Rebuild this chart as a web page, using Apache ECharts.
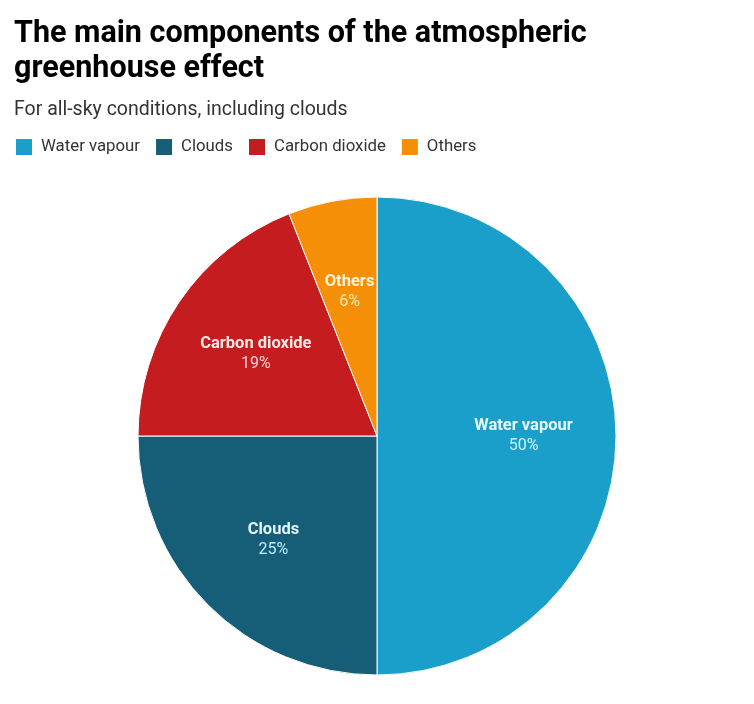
<!DOCTYPE html>
<html>
<head>
<meta charset="utf-8">
<script src="https://cdn.jsdelivr.net/npm/echarts@6/dist/echarts.min.js"></script>
<style>html,body{margin:0;padding:0;background:#fff;}#c{width:754px;height:704px;}</style>
</head>
<body>
<div id="c"></div>
<script>
const categories = ['Water vapour', 'Clouds', 'Carbon dioxide', 'Others'];
const values = [50, 25, 19, 6];
const colors = ['#1a9fca', '#165e78', '#c41c1f', '#f68f08'];
const nameColors = ['#e6fbff', '#e3f7ff', '#ffe9e6', '#fff4d6'];
const pctColors = ['#c9f2ff', '#bdeeff', '#ffd6d3', '#ffecb8'];

const chart = echarts.init(document.getElementById('c'));
const font = 'Roboto, "Noto Sans", sans-serif';
const baseData = categories.map((n, i) => ({ name: n, value: values[i], itemStyle: { color: colors[i] } }));
const labelData = categories.map((n, i) => ({
  name: n, value: values[i],
  itemStyle: { color: 'rgba(0,0,0,0)' },
  label: {
    rich: {
      n: { fontFamily: font, fontWeight: 'bold', fontSize: 16.5, color: nameColors[i], lineHeight: 20 },
      p: { fontFamily: font, fontSize: 16, color: pctColors[i], lineHeight: 20 }
    }
  }
}));
chart.setOption({
  animation: false,
  title: [{
    text: 'The main components of the atmospheric\ngreenhouse effect',
    left: 14, top: 17, padding: 0,
    textStyle: { fontFamily: font, fontWeight: 'bold', fontSize: 30.5, lineHeight: 35, color: '#000' }
  }, {
    text: 'For all-sky conditions, including clouds',
    left: 14, top: 100, padding: 0,
    textStyle: { fontFamily: font, fontWeight: 'normal', fontSize: 19.5, color: '#333' }
  }],
  legend: {
    left: 14, top: 137, padding: 0,
    itemWidth: 18, itemHeight: 18, itemGap: 14,
    icon: 'rect',
    data: categories,
    textStyle: { fontFamily: font, fontSize: 16.8, color: '#333', padding: [0, 0, 0, 3] }
  },
  series: [{
    type: 'pie',
    center: [377, 436],
    radius: 239,
    startAngle: 90,
    clockwise: true,
    silent: true,
    label: { show: false },
    labelLine: { show: false },
    itemStyle: { borderColor: '#fff', borderWidth: 1 },
    data: baseData
  }, {
    type: 'pie',
    center: [377, 436],
    radius: [48, 239],
    startAngle: 90,
    clockwise: true,
    silent: true,
    legendHoverLink: false,
    label: {
      show: true, position: 'inside',
      formatter: p => '{n|' + p.name + '}\n{p|' + p.value + '%}'
    },
    labelLine: { show: false },
    data: labelData
  }]
});
</script>
</body>
</html>
